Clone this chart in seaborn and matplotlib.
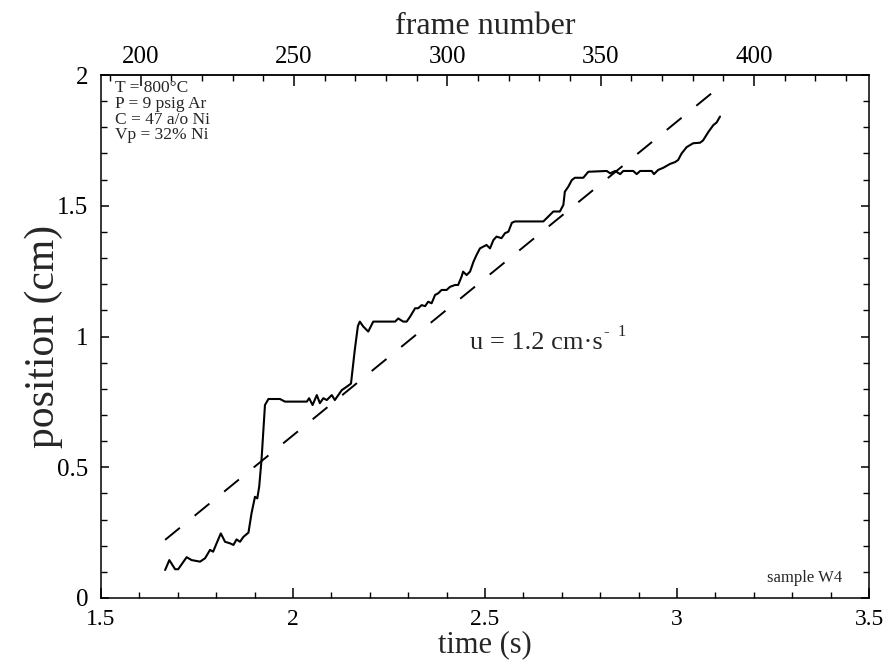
import matplotlib
matplotlib.use("Agg")
import matplotlib.pyplot as plt
from matplotlib.ticker import MultipleLocator, FixedLocator
import numpy as np
import pandas as pd
import seaborn as sns

# Measured front position versus time
time_s = [1.667, 1.678, 1.693, 1.701, 1.723, 1.736, 1.758, 1.771, 1.784, 1.792,
          1.801, 1.812, 1.823, 1.836, 1.845, 1.853, 1.862, 1.871, 1.884, 1.892,
          1.901, 1.907, 1.912, 1.918, 1.927, 1.936, 1.966, 1.979, 2.036, 2.042,
          2.051, 2.062, 2.070, 2.079, 2.088, 2.101, 2.109, 2.127, 2.140, 2.151,
          2.161, 2.169, 2.174, 2.183, 2.196, 2.209, 2.266, 2.274, 2.287, 2.296,
          2.305, 2.318, 2.326, 2.335, 2.344, 2.352, 2.361, 2.370, 2.378, 2.387,
          2.400, 2.409, 2.422, 2.430, 2.439, 2.443, 2.452, 2.461, 2.470, 2.478,
          2.487, 2.496, 2.504, 2.513, 2.522, 2.530, 2.543, 2.552, 2.561, 2.570,
          2.578, 2.652, 2.665, 2.678, 2.695, 2.704, 2.708, 2.717, 2.726, 2.734,
          2.756, 2.769, 2.817, 2.826, 2.839, 2.852, 2.860, 2.886, 2.895, 2.904,
          2.934, 2.940, 2.951, 2.964, 2.982, 2.995, 3.003, 3.012, 3.025, 3.042,
          3.060, 3.068, 3.082, 3.095, 3.103, 3.112]
position_cm = [0.107, 0.145, 0.110, 0.110, 0.156, 0.145, 0.139, 0.152, 0.184, 0.177,
               0.209, 0.247, 0.215, 0.209, 0.203, 0.224, 0.215, 0.234, 0.250, 0.324,
               0.387, 0.381, 0.426, 0.528, 0.738, 0.761, 0.761, 0.751, 0.751, 0.764,
               0.738, 0.776, 0.745, 0.764, 0.757, 0.776, 0.757, 0.795, 0.808, 0.820,
               0.950, 1.040, 1.057, 1.038, 1.019, 1.057, 1.057, 1.069, 1.057, 1.057,
               1.076, 1.108, 1.108, 1.120, 1.116, 1.133, 1.127, 1.159, 1.165, 1.178,
               1.178, 1.190, 1.197, 1.197, 1.229, 1.248, 1.235, 1.248, 1.286, 1.312,
               1.337, 1.344, 1.350, 1.337, 1.369, 1.382, 1.376, 1.395, 1.401, 1.435,
               1.440, 1.440, 1.459, 1.478, 1.478, 1.503, 1.554, 1.573, 1.598, 1.607,
               1.607, 1.630, 1.633, 1.624, 1.633, 1.621, 1.633, 1.633, 1.621, 1.633,
               1.633, 1.621, 1.637, 1.645, 1.660, 1.667, 1.675, 1.700, 1.724, 1.739,
               1.741, 1.750, 1.783, 1.809, 1.818, 1.841]

# Linear fit: u = 1.2 cm/s
fit_slope = 1.2
fit_intercept = -1.778
fit_time_s = [1.667, 3.090]

# Camera frame numbering (frame 200 at t = 1.603 s, 125.2 frames per second)
frame_ref = 200
time_ref = 1.603
frame_rate = 125.2
frame_ticks = [200, 250, 300, 350, 400]

time_ticks = [1.5, 2, 2.5, 3, 3.5]
time_tick_labels = ["1.5", "2", "2.5", "3", "3.5"]
pos_ticks = [0, 0.5, 1, 1.5, 2]
pos_tick_labels = ["0", "0.5", "1", "1.5", "2"]

condition_lines = ["T = 800°C", "P = 9 psig Ar", "C = 47 a/o Ni", "Vp = 32% Ni"]

sns.set_theme(style="ticks")
plt.rcParams["font.family"] = ["Liberation Serif", "DejaVu Serif"]
plt.rcParams["axes.linewidth"] = 1.1

fig = plt.figure(figsize=(8.96, 6.71), dpi=100)
ax = fig.add_axes([101 / 896, 1 - 598 / 671, 768 / 896, 523 / 671])

data = pd.DataFrame({"time": time_s, "position": position_cm})
sns.lineplot(data=data, x="time", y="position", ax=ax, color="black",
             linewidth=1.5, sort=False, estimator=None)

fit_df = pd.DataFrame({"time": fit_time_s,
                       "position": [fit_slope * t + fit_intercept for t in fit_time_s]})
sns.lineplot(data=fit_df, x="time", y="position", ax=ax, color="black",
             linewidth=1.4, sort=False, estimator=None)
ax.lines[-1].set_dashes((9.8, 9.8))

ax.set_xlim(1.5, 3.5)
ax.set_ylim(0, 2)
ax.set_xticks(time_ticks)
ax.set_xticklabels(time_tick_labels)
ax.set_yticks(pos_ticks)
ax.set_yticklabels(pos_tick_labels)
ax.xaxis.set_minor_locator(MultipleLocator(0.1))
ax.yaxis.set_minor_locator(MultipleLocator(0.1))

ax.tick_params(axis="both", which="both", direction="in", colors="black")
ax.tick_params(axis="x", which="major", length=7, width=1.1, pad=8, top=False,
               labelsize=17)
ax.tick_params(axis="x", which="minor", length=4, width=1.0, top=False)
ax.tick_params(axis="y", which="major", length=6, width=1.1, pad=9, right=True,
               labelsize=18)
ax.tick_params(axis="y", which="minor", length=4, width=1.0, right=True)

ax.set_xlabel("time (s)", fontsize=22, labelpad=0)
ax.set_ylabel("position (cm)", fontsize=30)
ax.yaxis.set_label_coords(-0.05, 0.5)
for s in ax.spines.values():
    s.set_visible(True)
    s.set_color("black")


def t_to_frame(t):
    return frame_ref + (np.asarray(t) - time_ref) * frame_rate


def frame_to_t(f):
    return time_ref + (np.asarray(f) - frame_ref) / frame_rate


top = ax.secondary_xaxis("top", functions=(t_to_frame, frame_to_t))
top.xaxis.set_major_locator(FixedLocator(frame_ticks))
top.xaxis.set_minor_locator(FixedLocator(np.arange(190, 440, 10)))
top.tick_params(axis="x", which="both", direction="in", labelsize=18, colors="black")
top.tick_params(axis="x", which="major", length=8, width=1.1, pad=5)
top.tick_params(axis="x", which="minor", length=4, width=1.0)
top.set_xlabel("frame number", fontsize=23, labelpad=9)

ax.text(0.018, 0.99, "\n".join(condition_lines), transform=ax.transAxes,
        ha="left", va="top", fontsize=12.5, linespacing=0.97)

u_txt = ax.text(2.461, 0.975, "u = 1.2 cm·s", ha="left", va="center", fontsize=19)
ax.annotate("-  1", xy=(1.0, 0.62), xycoords=u_txt, xytext=(1, 0),
            textcoords="offset points", ha="left", va="bottom", fontsize=12)

ax.text(0.867, 0.038, "sample W4", transform=ax.transAxes, ha="left",
        va="center", fontsize=12)

fig.savefig("out.png", dpi=100)
